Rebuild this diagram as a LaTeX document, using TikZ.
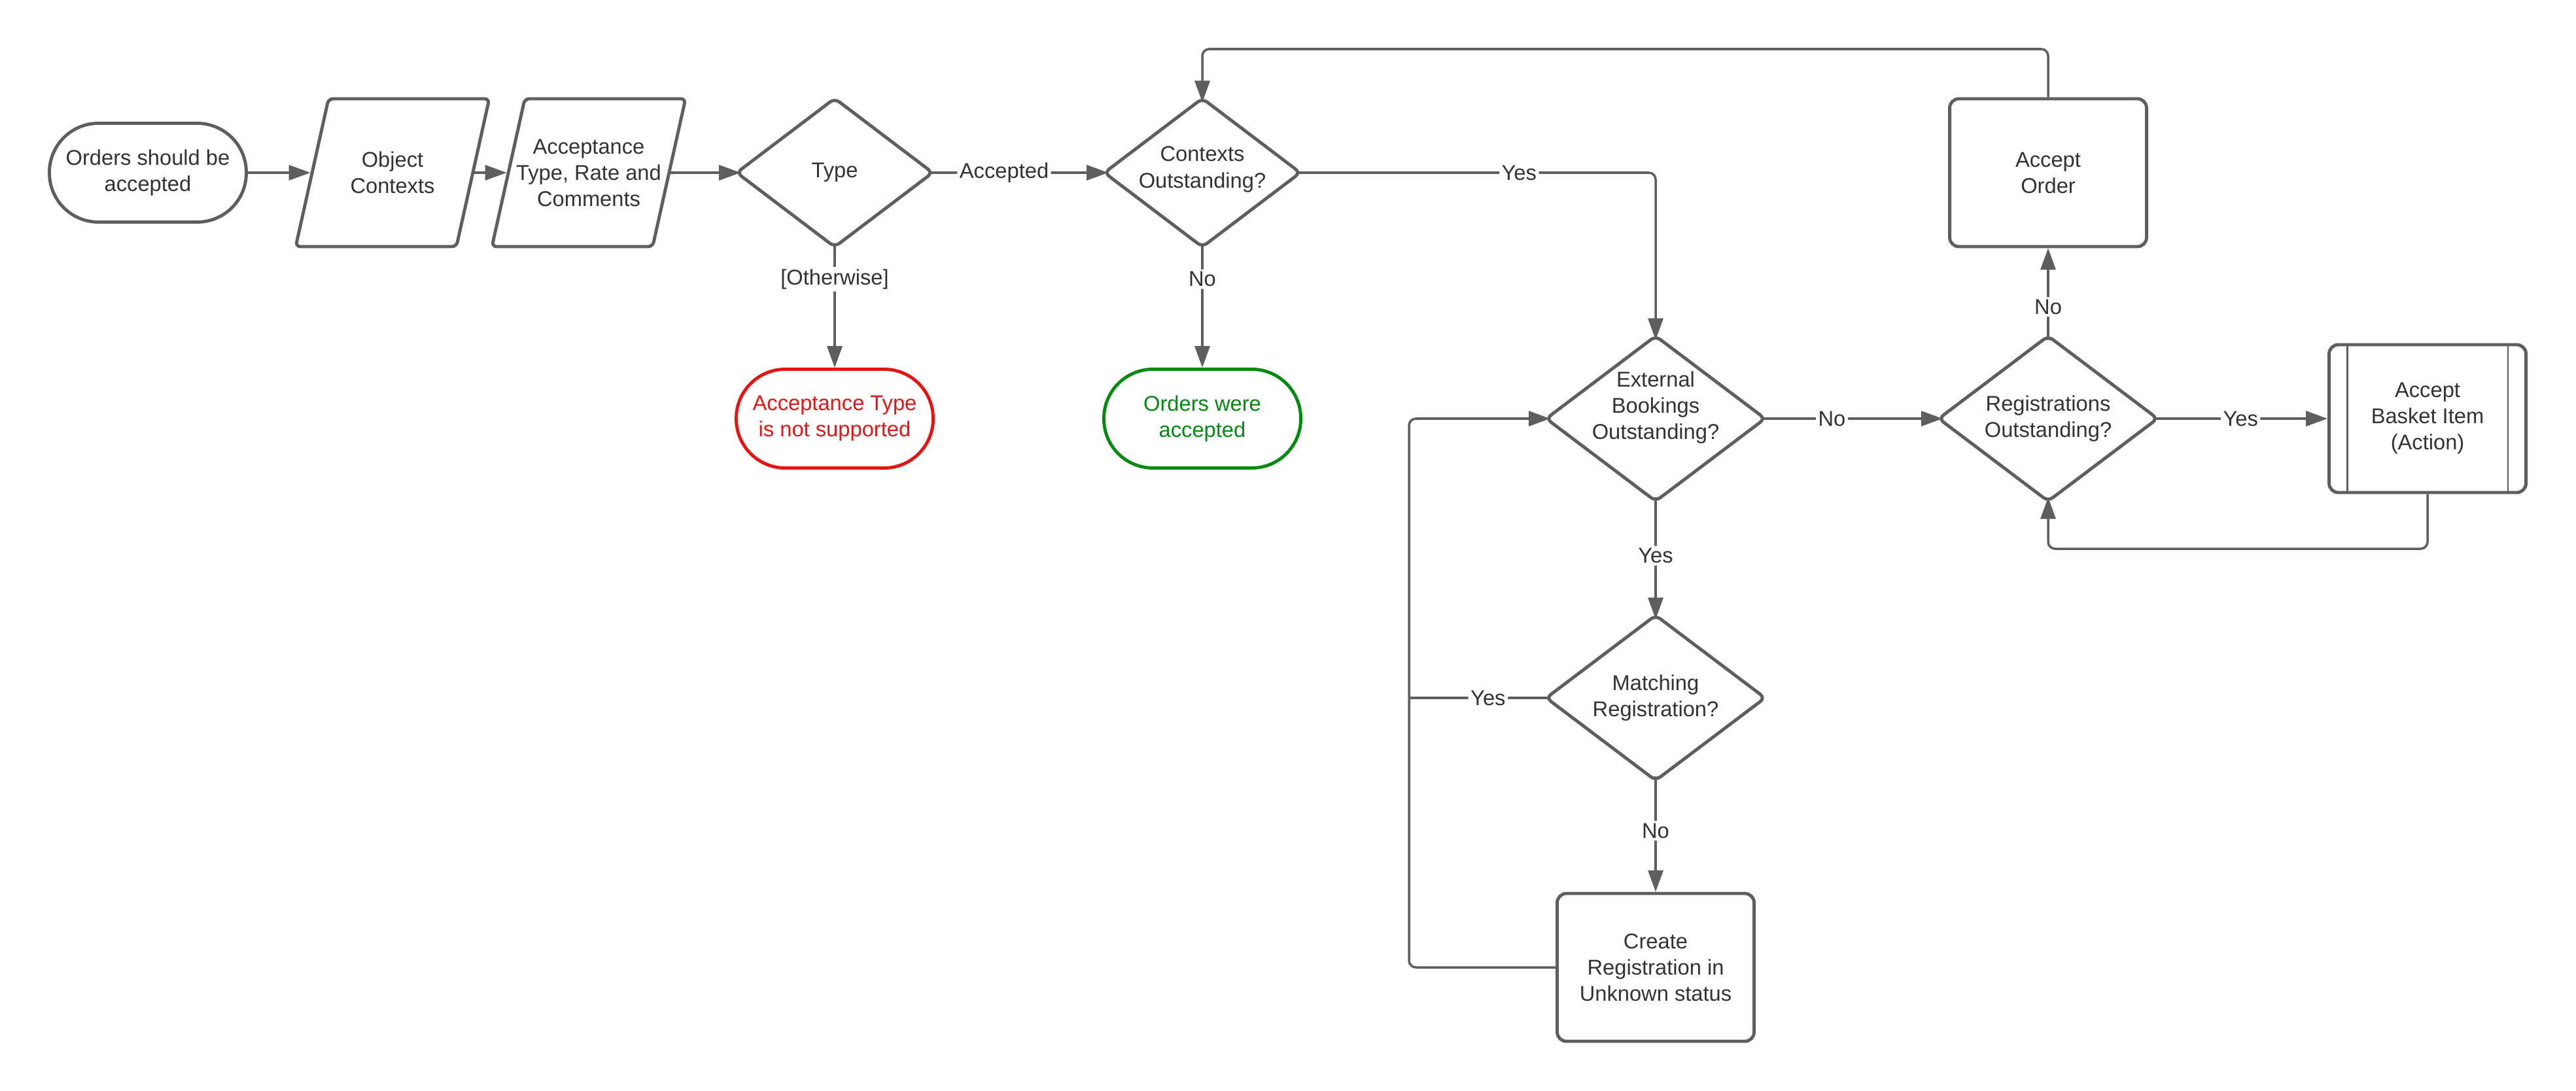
\documentclass[tikz,border=0pt]{standalone}
\usepackage{fontspec}
\setmainfont{Liberation Sans}
\usetikzlibrary{shapes.geometric, arrows.meta}

\definecolor{linegray}{HTML}{5E5E5E}
\definecolor{textgray}{HTML}{333333}
\definecolor{stopred}{HTML}{E81313}
\definecolor{okgreen}{HTML}{008A0E}

\begin{document}
\begin{tikzpicture}[
    font=\fontsize{9.3}{11.4}\selectfont,
    every node/.style={text=textgray, align=center},
    terminal/.style={draw=linegray, line width=1.4pt, rectangle, rounded corners=0.75cm,
        minimum width=3.01cm, minimum height=1.51cm, inner sep=0pt},
    data/.style={draw=linegray, line width=1.4pt, trapezium, trapezium left angle=75.6,
        trapezium right angle=104.4, trapezium stretches=true,
        minimum width=2.96cm, minimum height=2.26cm, inner sep=2pt, rounded corners=2pt},
    decision/.style={draw=linegray, line width=1.4pt, diamond, inner sep=2pt,
        rounded corners=2.5pt, outer sep=-1.2pt},
    process/.style={draw=linegray, line width=1.4pt, rectangle, rounded corners=4pt,
        minimum width=3.01cm, minimum height=2.26cm, inner sep=0pt},
    flow/.style={draw=linegray, line width=1pt, rounded corners=3pt,
        -{Triangle[length=3.3mm, width=2.3mm]}},
    link/.style={draw=linegray, line width=1pt, rounded corners=3pt},
    lbl/.style={fill=white, inner sep=1pt}
]
\useasboundingbox (0,0) rectangle (39.38,16.67);

% Top row
\node[terminal] (start) at (2.26,14.03) {Orders should be\\accepted};
\node[data, label={[name=objtext]center:Object\\Contexts}] (obj) at (6.00,14.03) {};
\node[data, label={[name=acctext]center:Acceptance\\Type, Rate and\\Comments}] (acc) at (9.00,14.03) {};
\node[decision, minimum width=2.96cm, minimum height=2.235cm,
    label={[name=typetext]center:Type}] (type) at (12.76,14.03) {};
\node[decision, minimum width=2.96cm, minimum height=2.235cm,
    label={[name=ctxtext, yshift=0.05cm]center:Contexts\\Outstanding?}] (ctx) at (18.38,14.03) {};
\node[process] (order) at (31.31,14.03) {Accept\\Order};

% End states
\node[terminal, draw=stopred, text=stopred] (notsup) at (12.76,10.27) {Acceptance Type\\is not supported};
\node[terminal, draw=okgreen, text=okgreen] (ordacc) at (18.38,10.27) {Orders were\\accepted};

% Middle row
\node[decision, minimum width=3.31cm, minimum height=2.49cm,
    label={[name=exttext, yshift=0.17cm]center:External\\Bookings\\Outstanding?}] (ext) at (25.31,10.27) {};
\node[decision, minimum width=3.31cm, minimum height=2.49cm,
    label={[name=regtext]center:Registrations\\Outstanding?}] (reg) at (31.31,10.27) {};
\node[process] (basket) at (37.11,10.27) {Accept\\Basket Item\\(Action)};
\draw[linegray, line width=0.8pt] ([xshift=0.3cm]basket.north west) -- ([xshift=0.3cm]basket.south west);
\draw[linegray, line width=0.8pt] ([xshift=-0.3cm]basket.north east) -- ([xshift=-0.3cm]basket.south east);

% Lower column
\node[decision, minimum width=3.31cm, minimum height=2.49cm,
    label={[name=matchtext]center:Matching\\Registration?}] (match) at (25.31,6.00) {};
\node[process] (create) at (25.31,1.88) {Create\\Registration in\\Unknown status};

% Turning points
\coordinate (topturn) at (18.38,15.92);
\coordinate (botturn) at (31.31,8.28);
\coordinate (loopturn) at (21.54,10.27);

% Connectors
\draw[flow] (start.east) -- (obj.west);
\draw[flow] (obj.east) -- (acc.west);
\draw[flow] (acc.east) -- (type.west);
\draw[flow] (type.east) -- node[lbl, pos=0.42] {Accepted} (ctx.west);
\draw[flow] (type.south) -- node[lbl, pos=0.29] {[Otherwise]} (notsup.north);
\draw[flow] (ctx.south) -- node[lbl, pos=0.29] {No} (ordacc.north);
\draw[flow] (ctx.east) -| node[lbl, pos=0.31] {Yes} (ext.north);
\draw[flow] (ext.east) -- node[lbl, pos=0.39] {No} (reg.west);
\draw[flow] (reg.east) -- node[lbl] {Yes} (basket.west);
\draw[flow] (reg.north) -- node[lbl, pos=0.36] {No} (order.south);
\draw[flow] (order.north) |- (topturn) -- (ctx.north);
\draw[flow] (basket.south) |- (botturn) -- (reg.south);
\draw[flow] (ext.south) -- node[lbl, pos=0.48] {Yes} (match.north);
\draw[flow] (match.south) -- node[lbl, pos=0.47] {No} (create.north);
\draw[flow] (create.west) -| (loopturn) -- (ext.west);
\draw[link] (match.west) -- node[lbl, pos=0.44] {Yes} (match.west -| loopturn);

\end{tikzpicture}
\end{document}
